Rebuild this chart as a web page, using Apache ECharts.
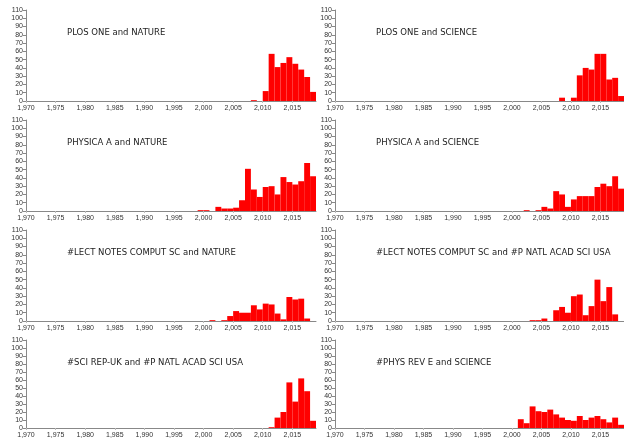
<!DOCTYPE html>
<html>
<head>
<meta charset="utf-8">
<script src="https://cdn.jsdelivr.net/npm/echarts@6/dist/echarts.min.js"></script>
<style>
  html, body { margin: 0; padding: 0; background: #fff; }
  #chart { width: 624px; height: 439px; }
</style>
</head>
<body>
<div id="chart"></div>
<script>
// year bins (bar covers [year, year+1)) and counts, per panel
const plosNatureYears = [2008, 2010, 2011, 2012, 2013, 2014, 2015, 2016, 2017, 2018]
const plosNatureCounts = [1, 12, 57, 41, 46, 53, 45, 38, 29, 11]

const plosScienceYears = [2008, 2010, 2011, 2012, 2013, 2014, 2015, 2016, 2017, 2018]
const plosScienceCounts = [4, 4, 31, 40, 38, 57, 57, 26, 28, 6]

const physicaNatureYears = [1999, 2000, 2002, 2003, 2004, 2005, 2006, 2007, 2008, 2009, 2010, 2011, 2012, 2013, 2014, 2015, 2016, 2017, 2018]
const physicaNatureCounts = [1, 1, 5, 3, 3, 4, 13, 51, 26, 17, 29, 30, 20, 41, 35, 32, 36, 58, 42]

const physicaScienceYears = [2002, 2004, 2005, 2006, 2007, 2008, 2009, 2010, 2011, 2012, 2013, 2014, 2015, 2016, 2017, 2018]
const physicaScienceCounts = [1, 1, 5, 3, 24, 20, 5, 14, 18, 18, 18, 29, 33, 30, 42, 27]

const lectNatureYears = [2001, 2003, 2004, 2005, 2006, 2007, 2008, 2009, 2010, 2011, 2012, 2013, 2014, 2015, 2016, 2017]
const lectNatureCounts = [1, 1, 6, 12, 10, 10, 19, 14, 21, 20, 9, 2, 29, 26, 27, 3]

const lectPnasYears = [2003, 2004, 2005, 2007, 2008, 2009, 2010, 2011, 2012, 2013, 2014, 2015, 2016, 2017]
const lectPnasCounts = [1, 1, 3, 13, 17, 10, 30, 32, 7, 18, 50, 24, 41, 8]

const sciRepPnasYears = [2011, 2012, 2013, 2014, 2015, 2016, 2017, 2018]
const sciRepPnasCounts = [1, 13, 20, 57, 33, 62, 46, 9]

const physRevScienceYears = [2001, 2002, 2003, 2004, 2005, 2006, 2007, 2008, 2009, 2010, 2011, 2012, 2013, 2014, 2015, 2016, 2017, 2018]
const physRevScienceCounts = [11, 6, 27, 21, 20, 23, 17, 13, 10, 9, 15, 10, 13, 15, 11, 7, 13, 4]

const panels = [
  { title: 'PLOS ONE and NATURE', years: plosNatureYears, counts: plosNatureCounts },
  { title: 'PLOS ONE and SCIENCE', years: plosScienceYears, counts: plosScienceCounts },
  { title: 'PHYSICA A and NATURE', years: physicaNatureYears, counts: physicaNatureCounts },
  { title: 'PHYSICA A and SCIENCE', years: physicaScienceYears, counts: physicaScienceCounts },
  { title: '#LECT NOTES COMPUT SC and NATURE', years: lectNatureYears, counts: lectNatureCounts },
  { title: '#LECT NOTES COMPUT SC and #P NATL ACAD SCI USA', years: lectPnasYears, counts: lectPnasCounts },
  { title: '#SCI REP-UK and #P NATL ACAD SCI USA', years: sciRepPnasYears, counts: sciRepPnasCounts },
  { title: '#PHYS REV E and SCIENCE', years: physRevScienceYears, counts: physRevScienceCounts }
]

const yearMin = 1970
const yearMax = 2019
const countMax = 110

const withComma = (v) => String(v).replace(/\B(?=(\d{3})+(?!\d))/g, ',')

const renderBin = (params, api) => {
  const year = api.value(0)
  const count = api.value(1)
  const top = api.coord([year, count])
  const bottom = api.coord([year + 1, 0])
  return {
    type: 'rect',
    shape: { x: top[0], y: top[1], width: bottom[0] - top[0], height: bottom[1] - top[1] },
    style: { fill: '#ff0000' }
  }
}

const grids = []
const xAxes = []
const yAxes = []
const titles = []
const series = []

panels.forEach((p, i) => {
  const col = i % 2
  const row = Math.floor(i / 2)
  const left = col === 0 ? 26 : 335
  const top = 10 + row * 110
  grids.push({ left: left, top: top, width: 290, height: 91 })
  titles.push({
    text: p.title,
    left: left + 41,
    top: top + 18,
    padding: 0,
    textStyle: { fontSize: 8.5, fontWeight: 'normal', color: '#222', fontFamily: 'DejaVu Sans' }
  })
  xAxes.push({
    type: 'value',
    gridIndex: i,
    min: yearMin,
    max: yearMax,
    interval: 5,
    splitLine: { show: false },
    axisLine: { lineStyle: { color: '#888' } },
    axisTick: { length: 2, lineStyle: { color: '#bbb' } },
    axisLabel: {
      fontSize: 7,
      color: '#333',
      fontFamily: 'Liberation Sans',
      margin: 4,
      showMaxLabel: false,
      formatter: (v) => (v % 5 === 0 ? withComma(v) : '')
    }
  })
  yAxes.push({
    type: 'value',
    gridIndex: i,
    min: 0,
    max: countMax,
    interval: 10,
    splitLine: { show: false },
    axisLine: { show: true, lineStyle: { color: '#888' } },
    axisTick: { show: true, length: 3, lineStyle: { color: '#888' } },
    axisLabel: { fontSize: 7, color: '#333', fontFamily: 'Liberation Sans', margin: 3 }
  })
  series.push({
    type: 'custom',
    xAxisIndex: i,
    yAxisIndex: i,
    renderItem: renderBin,
    encode: { x: 0, y: 1 },
    data: p.years.map((y, k) => [y, p.counts[k]])
  })
})

const myChart = echarts.init(document.getElementById('chart'), null, { renderer: 'canvas' })
myChart.setOption({
  animation: false,
  backgroundColor: '#fff',
  title: titles,
  grid: grids,
  xAxis: xAxes,
  yAxis: yAxes,
  series: series
})
</script>
</body>
</html>
